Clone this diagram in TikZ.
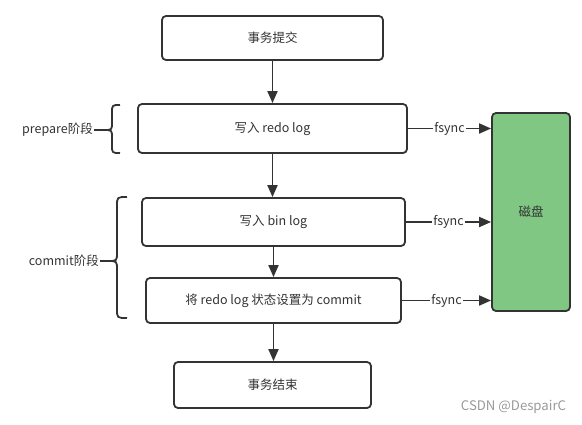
\documentclass[tikz,border=0pt]{standalone}
\usepackage{fontspec}
\setmainfont{Noto Sans CJK SC}
\usetikzlibrary{arrows.meta}
\definecolor{ln}{HTML}{333333}
\definecolor{tx}{HTML}{333333}
\definecolor{disk}{HTML}{7FC783}
\tikzset{
  box/.style={draw=ln, line width=1.8pt, rounded corners=4pt, fill=white, text=tx, font=\fontsize{12.5}{14}\selectfont, inner sep=0pt},
  arr/.style={draw=ln, line width=1.8pt, -{Triangle[length=12pt,width=10pt]}},
  lbl/.style={text=tx, font=\fontsize{12.5}{14}\selectfont, inner sep=1pt},
  brace/.style={draw=ln, line width=1.8pt, line join=round},
}
\begin{document}
\begin{tikzpicture}[x=1pt, y=-1pt]
\useasboundingbox (0,0) rectangle (582,424);
\node[box, minimum width=221pt, minimum height=44pt] (top) at (272.5,38) {事务提交};
\node[box, minimum width=269pt, minimum height=49pt] (redo) at (272.5,128.5) {写入 redo log};
\node[box, minimum width=263pt, minimum height=48pt] (bin) at (273.5,222) {写入 bin log};
\node[box, minimum width=255pt, minimum height=45pt] (cmt) at (273.5,300.5) {将 redo log 状态设置为 commit};
\node[box, minimum width=197pt, minimum height=46pt] (end) at (272.5,385) {事务结束};
\node[box, fill=disk, minimum width=78pt, minimum height=198pt] (disk) at (531,212) {磁盘};

\draw[arr] (top.south) -- (top.south |- redo.north);
\draw[arr] (redo.south) -- (redo.south |- bin.north);
\draw[arr] (bin.south) -- (bin.south |- cmt.north);
\draw[arr] (cmt.south) -- (cmt.south |- end.north);

\draw[arr] (redo.east) -- node[lbl, fill=white] {fsync} (redo.east -| disk.west);
\draw[arr] (bin.east) -- node[lbl, fill=white] {fsync} (bin.east -| disk.west);
\draw[arr] (cmt.east) -- node[lbl, fill=white] {fsync} (cmt.east -| disk.west);

% prepare brace
\node[lbl, anchor=east] (plabel) at (94,130) {prepare阶段};
\coordinate (ptip) at (104,130);
\draw[brace] (120,105) .. controls (112,105) .. (112,113) -- (112,122) .. controls (112,130) .. (ptip) .. controls (112,130) .. (112,138) -- (112,145) .. controls (112,153) .. (120,153);
\draw[brace] (plabel.east) -- (ptip);

% commit brace
\node[lbl, anchor=east] (clabel) at (100,261) {commit阶段};
\coordinate (ctip) at (108,261);
\draw[brace] (127,197) .. controls (117,197) .. (117,206) -- (117,252) .. controls (117,261) .. (ctip) .. controls (117,261) .. (117,270) -- (117,309) .. controls (117,318) .. (127,318);
\draw[brace] (clabel.east) -- (ctip);

\node[text=black!40, font=\fontsize{13.2}{15}\selectfont, inner sep=0pt] (wm) at (513.5,407) {CSDN @DespairC};
\end{tikzpicture}
\end{document}
